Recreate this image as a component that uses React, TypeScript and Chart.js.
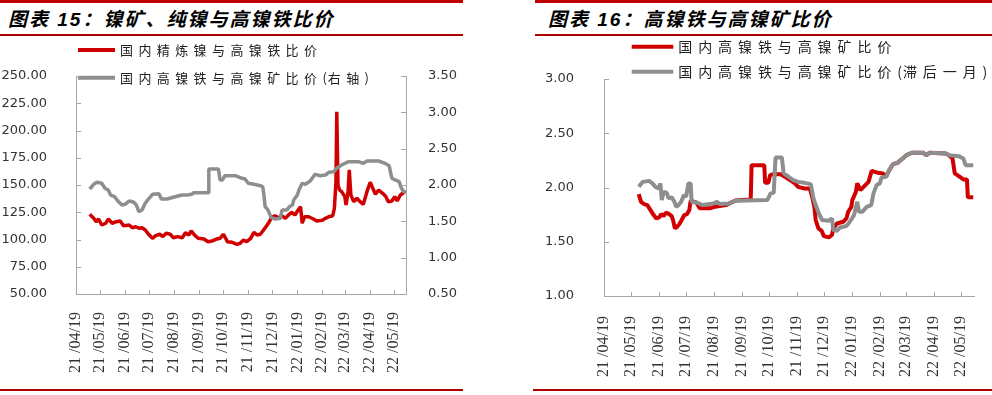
import React, { useEffect, useRef } from 'react';
import { Chart, registerables } from 'chart.js';

Chart.register(...registerables);

// ---------- data ----------
// x values are days counted from BASE_DATE (21/04/19)
const BASE_DATE = '21/04/19';
const X_MAX_DAYS = 410;
const tickLabels = [
  '21/04/19', '21/05/19', '21/06/19', '21/07/19', '21/08/19', '21/09/19', '21/10/19',
  '21/11/19', '21/12/19', '22/01/19', '22/02/19', '22/03/19', '22/04/19', '22/05/19',
];

// Figure 15 – 国内精炼镍与高镍铁比价 (left axis)
const refinedDays = [17, 22, 25, 28, 32, 37, 40, 45, 50, 55, 59, 66, 70, 74, 79, 82, 86, 91, 95, 99, 104, 108, 112, 117, 121, 126, 132, 136, 140, 143, 148, 152, 159, 164, 169, 175, 179, 183, 186, 188, 194, 200, 204, 208, 212, 217, 221, 225, 229, 233, 236, 239, 243, 247, 252, 256, 260, 264, 268, 272, 276, 279, 281, 284, 289, 295, 299, 306, 310, 314, 319, 321, 323, 324, 325.5, 327.5, 330, 334, 335.5, 338, 339.5, 341.5, 345, 349, 353, 357, 361.5, 365.5, 368.5, 372, 376, 381, 385, 388, 392.5, 396, 399, 403, 406, 409];
const refinedRatio = [123.1, 119.4, 116.3, 118.8, 113.3, 114.9, 118.8, 114.9, 116.3, 117, 112.7, 113.3, 110.8, 111.7, 110.2, 110.8, 108.7, 104.1, 101.1, 103.5, 104.8, 102.6, 105.7, 104.8, 101.6, 102.6, 101.6, 106.2, 104.1, 107.8, 103.5, 101.1, 100.5, 98, 98.6, 100.5, 101.1, 104.8, 101.1, 98, 97.4, 95.6, 96.5, 99.5, 98, 101.1, 106.6, 104.1, 104.8, 108.7, 111.7, 114.9, 120, 121.8, 120, 121.8, 119.4, 122.5, 124.9, 122.5, 127.1, 130.1, 114.9, 120.9, 120.9, 118.8, 117, 117.6, 119.4, 120.9, 121.8, 128.6, 153, 217.2, 150, 145.4, 143.9, 139.3, 131.6, 143.9, 163.8, 140.8, 134.7, 137.8, 134.7, 132.3, 143.9, 152.5, 147.5, 141.5, 145.4, 142.4, 139.3, 134.7, 135.3, 139.3, 135.3, 140.8, 142.4, 144.5];

// Figure 15 – 国内高镍铁与高镍矿比价(右轴)
const feOreDays = [17, 22, 26, 32, 36, 40, 43, 48, 52, 57, 61, 66, 72, 75, 78, 82, 86, 90, 95, 103, 106, 113, 123, 132, 138, 144, 146, 164, 165, 177, 179, 182, 185, 198, 204, 210, 214, 221, 229, 232, 233.5, 235, 238.5, 242.5, 247.5, 254, 256, 262, 265, 269, 270.5, 275, 277, 281, 285, 291, 297, 303.5, 310, 314, 320, 324, 330, 338.5, 351, 357, 361.5, 376, 384, 389, 392.5, 396.5, 401.5, 404, 407, 410];
const feOreRatio = [1.945, 2.01, 2.037, 2.023, 1.955, 1.931, 1.862, 1.839, 1.78, 1.725, 1.734, 1.78, 1.762, 1.725, 1.633, 1.656, 1.748, 1.807, 1.872, 1.88, 1.807, 1.807, 1.839, 1.862, 1.862, 1.872, 1.894, 1.894, 2.22, 2.22, 2.069, 2.069, 2.128, 2.128, 2.1, 2.083, 2.023, 2.01, 1.99, 1.976, 1.862, 1.701, 1.656, 1.55, 1.532, 1.542, 1.656, 1.656, 1.701, 1.725, 1.794, 1.862, 1.931, 2.023, 2.01, 2.055, 2.147, 2.128, 2.137, 2.174, 2.183, 2.23, 2.275, 2.321, 2.321, 2.298, 2.33, 2.33, 2.298, 2.265, 2.092, 2.069, 2.046, 1.963, 1.908, 1.908];

// Figure 16 – 国内高镍铁与高镍矿比价
const ratioDays = [38.5, 41, 44.5, 48, 51.5, 55, 58, 61, 63.5, 66, 68.5, 71, 75, 76.5, 78.5, 81, 83.5, 86, 89, 92, 94.5, 96, 102.5, 106, 117.5, 123, 135, 145.5, 162.5, 163.5, 177.5, 178.5, 182, 184, 187.5, 195.5, 200.5, 206, 211.5, 215, 222, 228, 230.5, 233, 234.5, 237.5, 241, 243.5, 249, 252.5, 254, 258, 265, 268.5, 270.5, 274, 275, 279, 280.5, 284, 287.5, 293, 296.5, 303.5, 309, 312.5, 316, 320, 325, 329.5, 335, 341, 353.5, 357, 360.5, 378.5, 382, 386, 388.5, 393, 398, 402, 403, 409];
const ratioValues = [1.939, 1.868, 1.847, 1.838, 1.792, 1.746, 1.715, 1.725, 1.755, 1.737, 1.767, 1.761, 1.737, 1.7, 1.623, 1.638, 1.663, 1.7, 1.746, 1.755, 1.792, 1.878, 1.86, 1.808, 1.808, 1.823, 1.838, 1.88, 1.89, 2.206, 2.206, 2.043, 2.043, 2.114, 2.123, 2.123, 2.099, 2.068, 2.038, 2.006, 1.991, 1.991, 1.914, 1.822, 1.7, 1.623, 1.601, 1.552, 1.54, 1.562, 1.623, 1.668, 1.684, 1.715, 1.776, 1.822, 1.884, 1.96, 2.038, 1.976, 2.006, 2.052, 2.154, 2.135, 2.13, 2.099, 2.16, 2.215, 2.227, 2.259, 2.298, 2.32, 2.32, 2.298, 2.32, 2.314, 2.298, 2.268, 2.13, 2.105, 2.074, 2.074, 1.909, 1.909];

// Figure 16 – 国内高镍铁与高镍矿比价(滞后一月)
const lagDays = [38.5, 43, 50, 53.5, 57, 60.5, 62.5, 64, 66, 69.5, 71.5, 75, 78, 80, 82.5, 85.5, 88.5, 91, 93.5, 96, 97, 103.5, 109, 121, 125, 128.5, 139, 145.5, 181, 184.5, 188, 190, 197, 199, 204.5, 209.5, 215, 222, 229, 232, 234.5, 238, 241.5, 249, 252.5, 254, 258, 261.5, 268.5, 271.5, 277, 280.5, 282.5, 286, 291, 296, 298.5, 302, 305.5, 307.5, 312.5, 316, 320, 325, 329.5, 335, 341, 353.5, 357, 360.5, 378.5, 382, 393, 398, 400.5, 409];
const lagValues = [2.006, 2.052, 2.061, 2.038, 2.006, 1.991, 2.038, 1.884, 1.96, 1.951, 1.9, 1.909, 1.868, 1.822, 1.838, 1.868, 1.93, 1.915, 2.038, 2.038, 1.868, 1.859, 1.838, 1.853, 1.868, 1.847, 1.853, 1.878, 1.884, 1.946, 1.951, 2.277, 2.277, 2.13, 2.099, 2.068, 2.052, 2.043, 2.031, 1.9, 1.838, 1.761, 1.7, 1.693, 1.715, 1.608, 1.601, 1.632, 1.645, 1.675, 1.746, 1.868, 1.776, 1.776, 1.822, 1.838, 1.946, 2.022, 2.038, 2.093, 2.099, 2.16, 2.215, 2.227, 2.259, 2.298, 2.32, 2.32, 2.298, 2.32, 2.314, 2.298, 2.289, 2.268, 2.206, 2.206];

// ---------- helpers ----------
const RED = '#D00000';
const GRAY = '#8E8E8E';
const AXIS = '#A6A6A6';
const TEXT = '#333333';

function parseLabel(l: string) {
  const [yy, mm, dd] = l.split('/').map(Number);
  return Date.UTC(2000 + yy, mm - 1, dd);
}
const baseMs = parseLabel(BASE_DATE);
const tickDays = tickLabels.map((l) => Math.round((parseLabel(l) - baseMs) / 86400000));

const toPoints = (xs: number[], ys: number[]) => xs.map((x, i) => ({ x, y: ys[i] }));

const lineLegend = {
  id: 'lineLegend',
  afterDraw(chart: any, _a: any, opts: any) {
    if (!opts || !opts.rows) return;
    const ctx = chart.ctx;
    ctx.save();
    chart.data.datasets.forEach((ds: any, i: number) => {
      const y = opts.rows[i];
      ctx.strokeStyle = ds.borderColor;
      ctx.lineWidth = opts.lineWidth;
      ctx.lineCap = 'butt';
      ctx.beginPath();
      ctx.moveTo(opts.x0, y);
      ctx.lineTo(opts.x1, y);
      ctx.stroke();
      ctx.font = opts.font;
      ctx.fillStyle = opts.color;
      ctx.textBaseline = 'middle';
      ctx.textAlign = 'left';
      let x = opts.textX;
      for (const ch of ds.label as string) {
        ctx.fillText(ch, x, y);
        x += ctx.measureText(ch).width + (ch.charCodeAt(0) > 255 ? opts.spacing : opts.asciiSpacing);
      }
    });
    ctx.restore();
  },
};

const innerTicks = {
  id: 'innerTicks',
  afterDraw(chart: any, _a: any, opts: any) {
    const ctx = chart.ctx;
    const ca = chart.chartArea;
    ctx.save();
    ctx.strokeStyle = opts.color || AXIS;
    ctx.lineWidth = 1;
    Object.keys(chart.scales).forEach((id) => {
      const s = chart.scales[id];
      s.ticks.forEach((t: any) => {
        const p = Math.round(s.getPixelForValue(t.value)) + 0.5;
        ctx.beginPath();
        if (s.isHorizontal()) {
          ctx.moveTo(p, ca.bottom);
          ctx.lineTo(p, ca.bottom - opts.xLen);
        } else if (s.position === 'left') {
          ctx.moveTo(ca.left, p);
          ctx.lineTo(ca.left + opts.yLen, p);
        } else {
          ctx.moveTo(ca.right, p);
          ctx.lineTo(ca.right - opts.yLen, p);
        }
        ctx.stroke();
      });
    });
    ctx.restore();
  },
};

function xScale(height: number, padding: number) {
  return {
    type: 'linear',
    min: 0,
    max: X_MAX_DAYS,
    grid: { display: false },
    border: { display: true, color: AXIS, width: 1 },
    afterBuildTicks: (scale: any) => {
      scale.ticks = tickDays.map((v) => ({ value: v }));
    },
    afterFit: (scale: any) => {
      scale.height = height;
    },
    ticks: {
      autoSkip: false,
      maxRotation: 90,
      minRotation: 90,
      padding,
      color: TEXT,
      font: { family: '"Liberation Serif", serif', size: 16 },
      callback: (_v: any, i: number) => tickLabels[i].replace('/', ' /'),
    },
  };
}

function yScale(position: string, min: number, max: number, step: number, width: number, padding: number) {
  return {
    type: 'linear',
    position,
    min,
    max,
    grid: { display: false },
    border: { display: true, color: AXIS, width: 1 },
    afterFit: (scale: any) => {
      scale.width = width;
    },
    ticks: {
      stepSize: step,
      padding,
      color: TEXT,
      font: { family: '"DejaVu Sans", sans-serif', size: 13 },
      callback: (v: any) => Number(v).toFixed(2),
    },
  };
}

export default function App() {
  const leftRef = useRef<HTMLCanvasElement>(null);
  const rightRef = useRef<HTMLCanvasElement>(null);

  useEffect(() => {
    const left = new Chart(leftRef.current as HTMLCanvasElement, {
      type: 'line',
      data: {
        datasets: [
          {
            label: '国内精炼镍与高镍铁比价',
            data: toPoints(refinedDays, refinedRatio),
            borderColor: RED,
            borderWidth: 3.5,
            pointRadius: 0,
            tension: 0,
            yAxisID: 'y',
            order: 2,
            borderJoinStyle: 'bevel',
          },
          {
            label: '国内高镍铁与高镍矿比价(右轴)',
            data: toPoints(feOreDays, feOreRatio),
            borderColor: GRAY,
            borderWidth: 3.5,
            pointRadius: 0,
            tension: 0,
            yAxisID: 'y1',
            order: 1,
            borderJoinStyle: 'bevel',
          },
        ],
      } as any,
      options: {
        responsive: false,
        animation: false,
        layout: { padding: { top: 36, left: 0, right: 0, bottom: 0 } },
        scales: {
          x: xScale(91, 10),
          y: yScale('left', 50, 250, 25, 76, 21),
          y1: yScale('right', 0.5, 3.5, 0.5, 56, 14),
        } as any,
        plugins: {
          legend: { display: false },
          tooltip: { enabled: false },
          lineLegend: {
            rows: [10, 37.7],
            x0: 78,
            x1: 115,
            textX: 120,
            lineWidth: 4,
            font: '13px "Noto Sans CJK SC", sans-serif',
            color: '#222',
            spacing: 5.4,
            asciiSpacing: 1,
          },
          innerTicks: { xLen: 4, yLen: 5, color: AXIS },
        } as any,
      },
      plugins: [lineLegend, innerTicks] as any,
    });

    const right = new Chart(rightRef.current as HTMLCanvasElement, {
      type: 'line',
      data: {
        datasets: [
          {
            label: '国内高镍铁与高镍矿比价',
            data: toPoints(ratioDays, ratioValues),
            borderColor: RED,
            borderWidth: 4,
            pointRadius: 0,
            tension: 0,
            order: 2,
            borderJoinStyle: 'bevel',
          },
          {
            label: '国内高镍铁与高镍矿比价(滞后一月)',
            data: toPoints(lagDays, lagValues),
            borderColor: GRAY,
            borderWidth: 4,
            pointRadius: 0,
            tension: 0,
            order: 1,
            borderJoinStyle: 'bevel',
          },
        ],
      } as any,
      options: {
        responsive: false,
        animation: false,
        layout: { padding: { top: 39, left: 0, right: 5, bottom: 0 } },
        scales: {
          x: xScale(89, 12),
          y: yScale('left', 1, 3, 0.5, 69, 22),
        } as any,
        plugins: {
          legend: { display: false },
          tooltip: { enabled: false },
          lineLegend: {
            rows: [6.7, 31.7],
            x0: 96.7,
            x1: 138.3,
            textX: 143.3,
            lineWidth: 4,
            font: '14px "Noto Sans CJK SC", sans-serif',
            color: '#222',
            spacing: 5.9,
            asciiSpacing: 1,
          },
          innerTicks: { xLen: 4, yLen: 5, color: AXIS },
        } as any,
      },
      plugins: [lineLegend, innerTicks] as any,
    });

    return () => {
      left.destroy();
      right.destroy();
    };
  }, []);

  const titleStyle: React.CSSProperties = {
    position: 'absolute',
    top: 9.5,
    fontSize: 19,
    lineHeight: '19px',
    fontWeight: 700,
    fontStyle: 'italic',
    letterSpacing: '2px',
    fontFamily: '"Liberation Sans", "Noto Sans CJK SC", sans-serif',
    whiteSpace: 'nowrap',
    color: '#000',
  };
  const bar = (left: number, top: number, width: number, height: number, color: string) => (
    <div style={{ position: 'absolute', left, top, width, height, background: color }} />
  );

  return (
    <div style={{ position: 'absolute', left: 0, top: 0, width: 992, height: 395, background: '#fff', overflow: 'hidden' }}>
      {bar(0, 0, 463, 3, '#C00000')}
      {bar(0, 34, 463, 2, '#B00000')}
      {bar(0, 389, 463, 2, '#B00000')}
      {bar(535, 0, 457, 3, '#C00000')}
      {bar(535, 34, 457, 2, '#B00000')}
      {bar(533, 389, 459, 2, '#B00000')}
      <div style={{ ...titleStyle, left: 8 }}>图表 15：镍矿、纯镍与高镍铁比价</div>
      <div style={{ ...titleStyle, left: 548 }}>图表 16：高镍铁与高镍矿比价</div>
      <canvas ref={leftRef} width={462} height={345} style={{ position: 'absolute', left: 0, top: 40, width: 462, height: 345 }} />
      <canvas ref={rightRef} width={457} height={345} style={{ position: 'absolute', left: 535, top: 40, width: 457, height: 345 }} />
    </div>
  );
}
